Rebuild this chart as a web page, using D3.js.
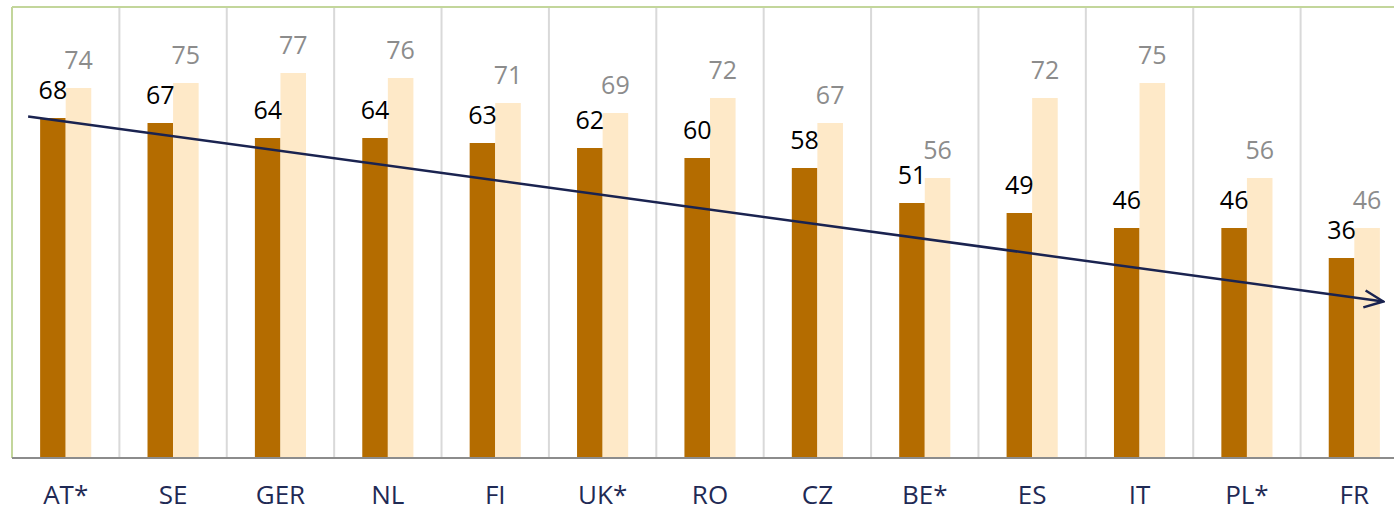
<!DOCTYPE html>
<html>
<head>
<meta charset="utf-8">
<script src="https://cdn.jsdelivr.net/npm/d3@7"></script>
<style>
  body { margin: 0; background: #fff; }
  svg { display: block; font-family: "Open Sans", sans-serif; }
</style>
</head>
<body>
<script>
// DATA
var countries = ["AT*", "SE", "GER", "NL", "FI", "UK*", "RO", "CZ", "BE*", "ES", "IT", "PL*", "FR"];
// bar heights as drawn in the picture (the FR bar stands at ~40 although it is labelled 36)
var seriesA = [68, 67, 64, 64, 63, 62, 60, 58, 51, 49, 46, 46, 40];
var seriesB = [74, 75, 77, 76, 71, 69, 72, 67, 56, 72, 75, 56, 46];
// printed value labels
var labelsA = ["68", "67", "64", "64", "63", "62", "60", "58", "51", "49", "46", "46", "36"];
var labelsB = ["74", "75", "77", "76", "71", "69", "72", "67", "56", "72", "75", "56", "46"];
var seriesKeys = ["a", "b"];
// trend arrow, in category units and values
var trendPos = [0.15, 12.77];
var trendVal = [68.3, 31.3];

// SET DIMENSIONS
var width = 1394, height = 512;
var plot = {left: 12, right: 1408, top: 8, bottom: 458};

var svg = d3.select("body").append("svg")
    .attr("width", width)
    .attr("height", height);

// SCALES
var x = d3.scaleBand()
    .domain(countries)
    .range([plot.left, plot.right])
    .padding(0);

var xs = d3.scaleBand()
    .domain(seriesKeys)
    .range([0, x.bandwidth()])
    .paddingInner(0)
    .paddingOuter(1.1);

var y = d3.scaleLinear()
    .domain([0, 90])
    .range([plot.bottom, plot.top]);

var xPos = d3.scaleLinear()
    .domain([0, countries.length])
    .range([plot.left, plot.right]);

// GRID LINES (category dividers)
svg.append("g")
    .selectAll("line")
    .data(countries.slice(1))
    .enter().append("line")
    .attr("x1", function(d) { return x(d); })
    .attr("x2", function(d) { return x(d); })
    .attr("y1", plot.top)
    .attr("y2", plot.bottom)
    .attr("stroke", "#d9d9d9")
    .attr("stroke-width", 2);

// PLOT BORDER (top & left)
svg.append("line")
    .attr("x1", plot.left).attr("x2", width)
    .attr("y1", plot.top - 1).attr("y2", plot.top - 1)
    .attr("stroke", "#c3d69b").attr("stroke-width", 2);
svg.append("line")
    .attr("x1", plot.left).attr("x2", plot.left)
    .attr("y1", plot.top - 1).attr("y2", plot.bottom)
    .attr("stroke", "#c3d69b").attr("stroke-width", 2);

// BARS
var rows = countries.map(function(c, i) {
    return {c: c, a: seriesA[i], b: seriesB[i], la: labelsA[i], lb: labelsB[i]};
});
var colors = {a: "#b46c00", b: "#fee9c8"};
var labelColors = {a: "#000000", b: "#8c8c8c"};

function parts(d) {
    return [{k: "a", v: d.a, t: d.la}, {k: "b", v: d.b, t: d.lb}];
}

var groups = svg.append("g")
    .selectAll("g")
    .data(rows)
    .enter().append("g")
    .attr("transform", function(d) { return "translate(" + x(d.c) + ",0)"; });

groups.selectAll("rect")
    .data(parts)
    .enter().append("rect")
    .attr("x", function(d) { return xs(d.k); })
    .attr("width", xs.bandwidth())
    .attr("y", function(d) { return y(d.v); })
    .attr("height", function(d) { return y(0) - y(d.v); })
    .attr("fill", function(d) { return colors[d.k]; });

groups.selectAll("text")
    .data(parts)
    .enter().append("text")
    .attr("x", function(d) { return xs(d.k) + xs.bandwidth() / 2; })
    .attr("y", function(d) { return y(d.v) - 19; })
    .attr("text-anchor", "middle")
    .attr("font-size", 25)
    .attr("fill", function(d) { return labelColors[d.k]; })
    .text(function(d) { return d.t; });

// X AXIS
var xAxis = d3.axisBottom(x).tickSize(0).tickPadding(28);
var gx = svg.append("g")
    .attr("transform", "translate(0," + plot.bottom + ")")
    .call(xAxis);
gx.select(".domain").remove();
gx.selectAll("text")
    .attr("font-size", 26)
    .attr("font-family", "'Open Sans', sans-serif")
    .attr("fill", "#1f2a55");
svg.append("line")
    .attr("x1", plot.left).attr("x2", width)
    .attr("y1", plot.bottom).attr("y2", plot.bottom)
    .attr("stroke", "#8c8c8c").attr("stroke-width", 2);

// TREND ARROW
svg.append("defs").append("marker")
    .attr("id", "arrow")
    .attr("viewBox", "0 0 22 20")
    .attr("refX", 20).attr("refY", 10)
    .attr("markerWidth", 22).attr("markerHeight", 20)
    .attr("markerUnits", "userSpaceOnUse")
    .attr("orient", "auto")
  .append("path")
    .attr("d", "M1,1.5 L20,10 L1,18.5")
    .attr("fill", "none")
    .attr("stroke", "#1a2350")
    .attr("stroke-width", 2.5);

svg.append("line")
    .attr("x1", xPos(trendPos[0])).attr("y1", y(trendVal[0]))
    .attr("x2", xPos(trendPos[1])).attr("y2", y(trendVal[1]))
    .attr("stroke", "#1a2350")
    .attr("stroke-width", 2.5)
    .attr("marker-end", "url(#arrow)");
</script>
</body>
</html>
